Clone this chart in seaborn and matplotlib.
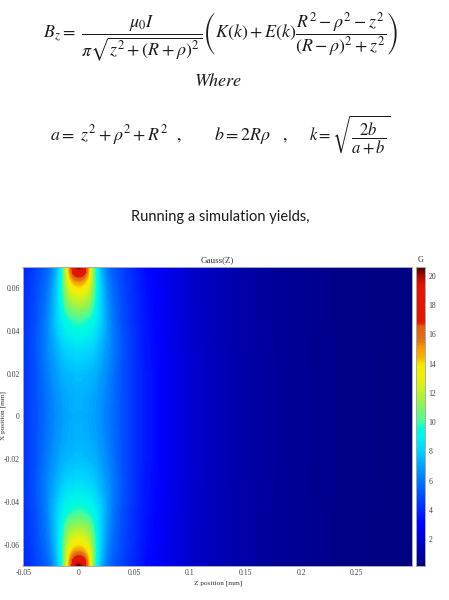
import numpy as np
import matplotlib
matplotlib.use("Agg")
import matplotlib.pyplot as plt
from matplotlib.colors import LinearSegmentedColormap
import seaborn as sns

# ---------- data ----------
z_half = [0, .0025, .005, .0075, .01, .0125, .015, .02, .025, .03, .04, .05, .06, .08, .1, .125, .15, .2, .25, .3]
x_half = [0, .01, .02, .03, .04, .045, .05, .055, .06, .0625, .065, .0675, .07]
g_x000 = [7.2, 7.2, 7.1, 7.1, 7.0, 6.9, 6.8, 6.5, 6.1, 5.7, 4.9, 4.2, 3.6, 2.7, 2.0, 1.45, 1.05, .58, .32, .2]
g_x010 = [7.3, 7.3, 7.2, 7.2, 7.1, 7.0, 6.9, 6.6, 6.2, 5.8, 4.9, 4.2, 3.6, 2.7, 2.0, 1.45, 1.05, .58, .32, .2]
g_x020 = [7.6, 7.6, 7.5, 7.5, 7.4, 7.3, 7.2, 6.8, 6.4, 5.9, 4.9, 4.2, 3.6, 2.7, 2.0, 1.45, 1.05, .58, .32, .2]
g_x030 = [8.2, 8.2, 8.1, 8.1, 8.0, 7.9, 7.7, 7.2, 6.7, 6.1, 5.0, 4.2, 3.5, 2.7, 2.0, 1.42, 1.03, .57, .31, .2]
g_x040 = [9.2, 9.2, 9.1, 9.0, 8.9, 8.7, 8.4, 7.7, 6.9, 6.1, 4.9, 4.2, 3.5, 2.65, 1.95, 1.4, 1.02, .56, .31, .19]
g_x045 = [10.0, 9.9, 9.8, 9.6, 9.4, 9.2, 8.8, 7.9, 6.9, 6.0, 4.8, 4.1, 3.45, 2.65, 1.95, 1.4, 1.0, .56, .3, .19]
g_x050 = [11.1, 11.0, 10.9, 10.7, 10.3, 9.8, 9.1, 7.9, 6.8, 5.9, 4.8, 4.1, 3.4, 2.6, 1.9, 1.4, 1.0, .55, .3, .18]
g_x055 = [12.3, 12.2, 12.0, 11.7, 11.2, 10.4, 9.4, 7.9, 6.7, 5.8, 4.7, 4.1, 3.4, 2.6, 1.9, 1.4, 1.0, .55, .3, .18]
g_x060 = [13.8, 13.7, 13.3, 12.8, 12.0, 10.9, 9.6, 7.8, 6.5, 5.7, 4.7, 4.0, 3.35, 2.6, 1.9, 1.4, 1.0, .55, .3, .18]
g_x0625 = [14.8, 14.7, 14.3, 13.6, 12.5, 11.1, 9.6, 7.7, 6.4, 5.6, 4.6, 4.0, 3.3, 2.6, 1.9, 1.4, 1.0, .55, .3, .18]
g_x065 = [16.6, 16.4, 15.7, 14.5, 13.0, 11.2, 9.6, 7.6, 6.3, 5.5, 4.6, 4.0, 3.3, 2.6, 1.9, 1.4, 1.0, .55, .3, .18]
g_x0675 = [19.0, 18.7, 17.4, 15.5, 13.3, 11.3, 9.5, 7.4, 6.1, 5.4, 4.5, 3.9, 3.25, 2.6, 1.9, 1.4, 1.0, .55, .3, .18]
g_x070 = [20.6, 20.2, 18.0, 15.7, 13.5, 11.3, 9.4, 7.2, 6.0, 5.3, 4.5, 3.9, 3.2, 2.6, 1.9, 1.4, 1.0, .55, .3, .18]
x_ticks = [0.06, 0.04, 0.02, 0, -0.02, -0.04, -0.06]
x_tick_labels = ["0.06", "0.04", "0.02", "0", "-0.02", "-0.04", "-0.06"]
z_ticks = [-0.05, 0, 0.05, 0.1, 0.15, 0.2, 0.25]
z_tick_labels = ["-0.05", "0", "0.05", "0.1", "0.15", "0.2", "0.25"]
g_ticks = [2, 4, 6, 8, 10, 12, 14, 16, 18, 20]
g_min, g_max = 0.15, 20.64
# colour table of the colour bar: value, rgb
cmap_values = [0.15, 3, 6, 8, 9, 9.45, 10, 11, 12, 13, 13.9, 14.4, 15.2, 15.6, 16.6, 16.9, 19.5, 20.1, 20.64]
cmap_rgb = [(0, 0, 128), (0, 0, 255), (0, 120, 255), (0, 210, 255), (0, 245, 235), (0, 250, 220),
            (70, 250, 160), (130, 245, 95), (190, 242, 45), (235, 240, 10), (248, 232, 0), (250, 180, 0),
            (245, 150, 0), (222, 118, 30), (222, 95, 20), (225, 25, 0), (225, 20, 0), (170, 10, 0), (70, 0, 0)]

W, H = 449, 600
sns.set_theme(style="white")
plt.rcParams["font.family"] = ["DejaVu Sans"]
plt.rcParams["mathtext.fontset"] = "stix"

cmap = LinearSegmentedColormap.from_list(
    "gauss",
    [((v - g_min) / (g_max - g_min), tuple(c / 255 for c in rgb)) for v, rgb in zip(cmap_values, cmap_rgb)],
    N=512,
)

half = np.array([g_x000, g_x010, g_x020, g_x030, g_x040, g_x045, g_x050, g_x055, g_x060,
                 g_x0625, g_x065, g_x0675, g_x070])
z_half = np.array(z_half)
x_half = np.array(x_half)
left = z_half[(z_half > 0) & (z_half <= 0.05)]
z_all = np.concatenate([-left[::-1], z_half])
x_all = np.concatenate([-x_half[:0:-1], x_half])
rows = np.vstack([half[:0:-1], half])
field = np.hstack([rows[:, 1:len(left) + 1][:, ::-1], rows])


def axes_px(l, t, r, b):
    return fig.add_axes([l / W, 1 - b / H, (r - l) / W, (b - t) / H])


fig = plt.figure(figsize=(W / 100, H / 100), dpi=100, facecolor="white")

# ---------- equations ----------
eq = dict(color="#1a1a1a", va="center", ha="left", fontsize=12.9)
fig.text(43 / W, 1 - 37 / H,
         r"$B_z=\ \dfrac{\mu_0 I}{\pi\sqrt{z^2+(R+\rho)^2}}\left(K(k)+E(k)\dfrac{R^2-\rho^2-z^2}{(R-\rho)^2+z^2}\right)$",
         **eq)
fig.text(218 / W, 1 - 81 / H, r"$Where$", color="#1a1a1a", va="center", ha="center", fontsize=13)
fig.text(50 / W, 1 - 135 / H, r"$a=\ z^2+\rho^2+R^2\ \ ,$", **eq)
fig.text(214 / W, 1 - 135 / H, r"$b=2R\rho\ \ \ ,$", **eq)
fig.text(309 / W, 1 - 135 / H, r"$k=\sqrt{\dfrac{2b}{a+b}}$", color="#1a1a1a", va="center", ha="left", fontsize=12)
fig.text(220 / W, 1 - 217 / H, "Running a simulation yields,", family="Lato", fontsize=10.5,
         color="#1a1a1a", ha="center", va="center")

# ---------- field ----------
ax = axes_px(23.3, 266.7, 412.3, 566)
ax.contourf(z_all, x_all, field, levels=np.linspace(g_min, g_max, 160), cmap=cmap, extend="both",
            antialiased=False)
ax.set_xlim(-0.05, 0.3)
ax.set_ylim(-0.07, 0.07)
ax.set_xticks(z_ticks, z_tick_labels)
ax.set_yticks(x_ticks, x_tick_labels)
serif = ["Liberation Serif", "DejaVu Serif"]
ax.tick_params(axis="both", direction="in", length=1.5, width=0.3, color="#222222", labelsize=5.6,
               labelcolor="#444444", pad=2.5, top=True, right=True, bottom=True, left=True)
for t in ax.get_xticklabels() + ax.get_yticklabels():
    t.set_family(serif)
for s in ax.spines.values():
    s.set_color("#aaaaaa")
    s.set_linewidth(0.7)
ax.set_title("Gauss(Z)", family=serif, fontsize=6.5, color="#333333", pad=3.5)
ax.set_xlabel("Z position [mm]", family=serif, fontsize=5.2, color="#333333", labelpad=2.5)
fig.text(3.5 / W, 1 - 416 / H, "X position [mm]", family=serif, fontsize=5.2, color="#333333",
         rotation=90, ha="center", va="center")

# ---------- colour bar ----------
cax = axes_px(416, 266.7, 425.3, 566)
n_levels = 300
bar_levels = np.linspace(g_max, g_min, n_levels)[:, None]
sns.heatmap(bar_levels, ax=cax, cmap=cmap, vmin=g_min, vmax=g_max, cbar=False,
            xticklabels=False, yticklabels=False)
tick_pos = [(g_max - g) / (g_max - g_min) * n_levels for g in g_ticks]
cax.yaxis.tick_right()
cax.set_yticks(tick_pos, [str(g) for g in g_ticks], rotation=0)
cax.tick_params(axis="y", direction="in", length=1, width=0.3, color="#222222", labelsize=5.6,
                labelcolor="#444444", pad=2.5, right=True, left=False)
for t in cax.get_yticklabels():
    t.set_family(serif)
for s in cax.spines.values():
    s.set_visible(True)
    s.set_color("#aaaaaa")
    s.set_linewidth(0.7)
fig.text(421 / W, 1 - 260 / H, "G", family=serif, fontsize=5.8, color="#333333", ha="center", va="center")

fig.savefig("out.png", dpi=100)
